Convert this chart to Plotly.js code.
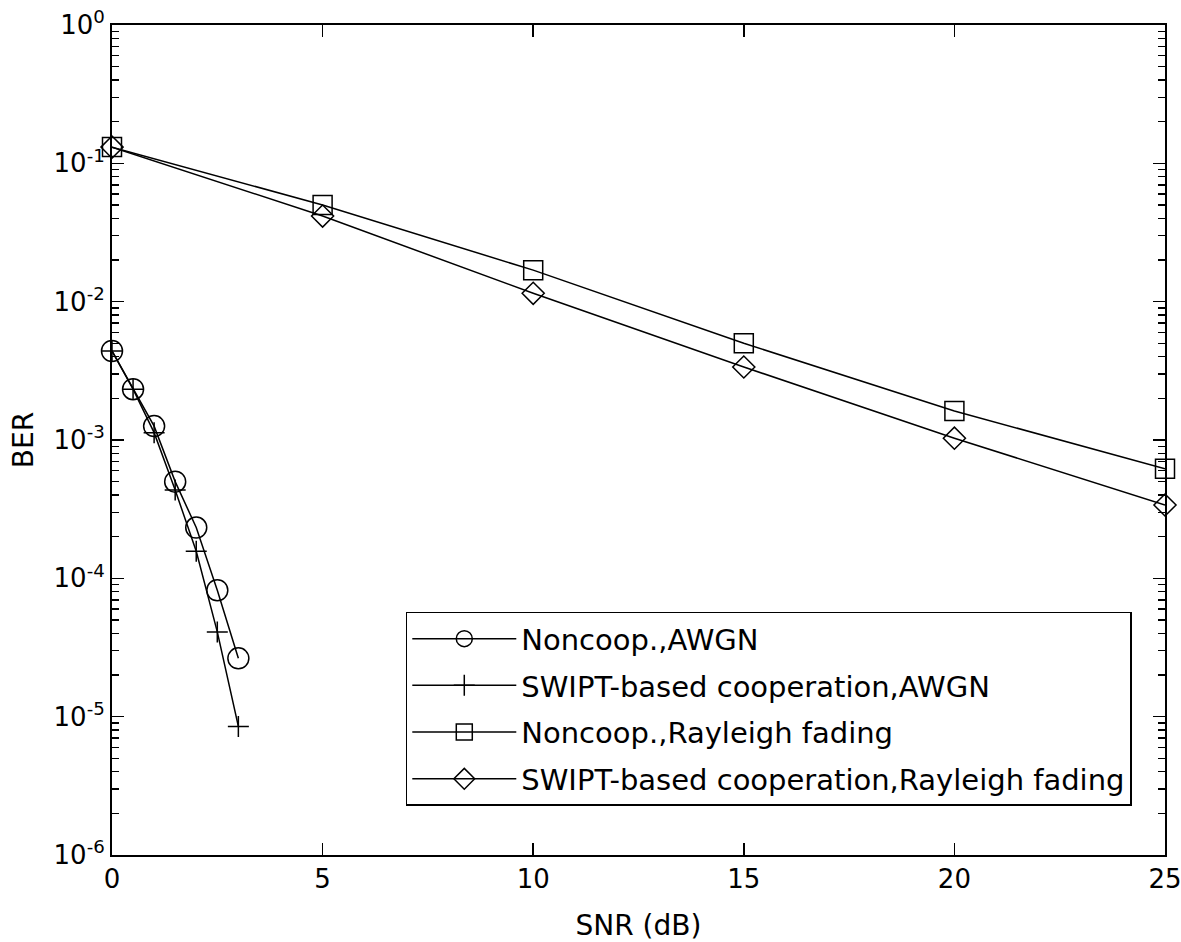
<!DOCTYPE html>
<html>
<head>
<meta charset="utf-8">
<script src="https://cdn.plot.ly/plotly-3.0.1.min.js"></script>
<style>
  html, body { margin: 0; padding: 0; background: #fff; }
  #plot { width: 1181px; height: 942px; }
</style>
</head>
<body>
<div id="plot"></div>
<script>
// SNR points (dB)
const snrAwgn = [0, 0.5, 1, 1.5, 2, 2.5, 3];
const snrRayleigh = [0, 5, 10, 15, 20, 25];

// BER
const berNoncoopAwgn = [4.4e-3, 2.33e-3, 1.26e-3, 5.0e-4, 2.33e-4, 8.2e-5, 2.64e-5];
const berSwiptAwgn = [4.4e-3, 2.33e-3, 1.13e-3, 4.35e-4, 1.57e-4, 4.1e-5, 8.5e-6];
const berNoncoopRayleigh = [0.131, 0.050, 0.0169, 5.0e-3, 1.62e-3, 6.2e-4];
const berSwiptRayleigh = [0.131, 0.0416, 0.0115, 3.37e-3, 1.03e-3, 3.39e-4];

const seriesNames = [
  'Noncoop.,AWGN',
  'SWIPT-based cooperation,AWGN',
  'Noncoop.,Rayleigh fading',
  'SWIPT-based cooperation,Rayleigh fading'
];

const yTickVals = [1e-6, 1e-5, 1e-4, 1e-3, 1e-2, 1e-1, 1];
const yTickText = ['10<sup>-6</sup>', '10<sup>-5</sup>', '10<sup>-4</sup>', '10<sup>-3</sup>',
                   '10<sup>-2</sup>', '10<sup>-1</sup>', '10<sup>0</sup>'];

function mkTrace(x, y, name, symbol, size, grp) {
  return {
    x: x, y: y, name: name, legendgroup: grp,
    type: 'scatter', mode: 'lines+markers',
    line: {color: 'black', width: 1.5},
    marker: {symbol: symbol, size: size, color: 'black', line: {color: 'black', width: 1.5}},
    cliponaxis: false
  };
}

const traces = [
  mkTrace(snrAwgn, berNoncoopAwgn, seriesNames[0], 'circle-open', 21, 'a'),
  mkTrace(snrAwgn, berSwiptAwgn, seriesNames[1], 'cross-thin-open', 15, 'b'),
  mkTrace(snrRayleigh, berNoncoopRayleigh, seriesNames[2], 'square-open', 19, 'c'),
  mkTrace(snrRayleigh, berSwiptRayleigh, seriesNames[3], 'diamond-open', 17, 'd')
];

const fam = 'DejaVu Sans, Arial, sans-serif';

const layout = {
  width: 1181, height: 942,
  margin: {l: 112, r: 16, t: 25, b: 87},
  paper_bgcolor: 'white', plot_bgcolor: 'white',
  font: {family: fam, size: 25, color: 'black'},
  showlegend: true,
  xaxis: {
    range: [0, 25], tickvals: [0, 5, 10, 15, 20, 25],
    ticks: 'inside', ticklen: 12, tickwidth: 1.5, tickcolor: 'black',
    showline: true, linecolor: 'black', linewidth: 2, mirror: 'ticks',
    showgrid: false, zeroline: false,
    ticklabeloverflow: 'allow',
    tickfont: {family: fam, size: 26, color: 'black'},
    title: {text: 'SNR (dB)', font: {family: fam, size: 28, color: 'black'}, standoff: 22}
  },
  yaxis: {
    type: 'log', range: [-6, 0],
    tickmode: 'array', tickvals: yTickVals, ticktext: yTickText,
    ticks: 'inside', ticklen: 12, tickwidth: 1.5, tickcolor: 'black',
    minor: {ticks: 'inside', ticklen: 7, tickwidth: 1.5, tickcolor: 'black', dtick: 'D1', showgrid: false},
    showline: true, linecolor: 'black', linewidth: 2, mirror: 'ticks',
    showgrid: false, zeroline: false,
    ticklabeloverflow: 'allow',
    tickfont: {family: fam, size: 26, color: 'black'},
    title: {text: 'BER', font: {family: fam, size: 28, color: 'black'}, standoff: 12}
  },
  legend: {
    x: 0.279, y: 0.293, xanchor: 'left', yanchor: 'top',
    bgcolor: 'white', bordercolor: 'black', borderwidth: 1.5,
    font: {family: fam, size: 29, color: 'black'},
    traceorder: 'grouped', tracegroupgap: 6,
    itemwidth: 104
  }
};

Plotly.newPlot('plot', traces, layout, {displayModeBar: false, staticPlot: true});
</script>
</body>
</html>
